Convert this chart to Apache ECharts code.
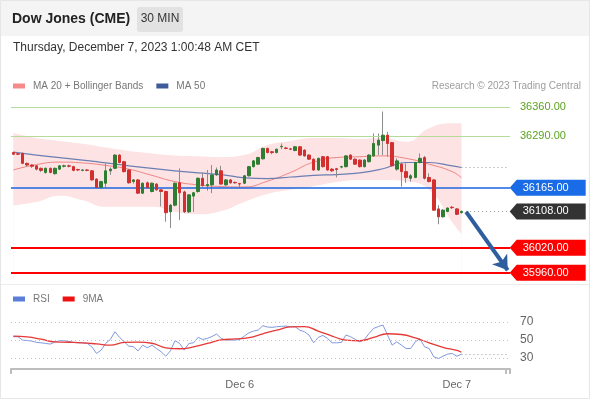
<!DOCTYPE html>
<html><head><meta charset="utf-8">
<script src="https://cdn.jsdelivr.net/npm/echarts@6/dist/echarts.min.js"></script>
<style>html,body{margin:0;padding:0;background:#fff}#c{width:590px;height:400px}</style>
</head><body><div id="c"></div>
<script>
// ---- candles (30 min) ----
const opens  = [36250,36247,36248,36224,36220,36218,36212,36202,36212,36199,36210,36217,36218,36216,36209,36207,36208,36206,36186,36166,36176,36206,36212,36244,36228,36208,36180,36184,36152,36177,36156,36174,36160,36156,36107,36123,36177,36155,36107,36145,36156,36188,36170,36172,36196,36206,36172,36184,36178,36175,36176,36194,36216,36222,36235,36260,36252,36250,36264,36261,36259,36255,36264,36256,36244,36234,36208,36240,36240,36210,36211,36215,36216,36244,36234,36232,36216,36228,36242,36268,36279,36292,36274,36210,36222,36204,36188,36190,36226,36238,36190,36184,36114,36095,36108,36118,36114,36105];
const closes = [36246,36246,36224,36220,36217,36210,36207,36212,36202,36212,36218,36218,36217,36207,36208,36208,36207,36184,36166,36180,36206,36210,36244,36226,36204,36177,36184,36152,36176,36166,36176,36160,36156,36105,36123,36176,36153,36107,36148,36153,36188,36170,36173,36196,36208,36174,36184,36177,36177,36174,36194,36216,36230,36238,36260,36250,36250,36258,36265,36260,36258,36264,36244,36242,36234,36208,36236,36216,36208,36206,36209,36216,36242,36234,36222,36216,36232,36244,36272,36280,36292,36272,36218,36230,36204,36190,36194,36226,36236,36188,36180,36111,36095,36111,36116,36117,36101,36108];
const lows   = [36244,36244,36222,36216,36213,36207,36203,36199,36200,36197,36208,36214,36214,36205,36205,36205,36205,36182,36164,36164,36166,36196,36210,36224,36202,36175,36175,36150,36150,36164,36154,36158,36120,36083,36068,36120,36087,36104,36104,36107,36153,36168,36158,36152,36194,36172,36170,36175,36175,36166,36174,36192,36214,36220,36233,36248,36246,36248,36258,36258,36256,36253,36242,36240,36232,36206,36206,36214,36206,36203,36190,36212,36214,36232,36220,36214,36214,36226,36240,36244,36244,36240,36216,36206,36168,36177,36180,36188,36224,36185,36178,36109,36077,36093,36106,36114,36099,36103];
const highs  = [36252,36249,36250,36226,36222,36220,36214,36214,36214,36214,36220,36221,36221,36218,36211,36210,36210,36208,36188,36182,36224,36214,36246,36246,36230,36210,36186,36186,36178,36180,36178,36176,36162,36158,36126,36178,36212,36158,36150,36155,36190,36201,36208,36220,36214,36218,36186,36186,36180,36177,36196,36218,36232,36240,36262,36262,36254,36260,36272,36264,36261,36266,36266,36258,36246,36236,36238,36242,36242,36213,36213,36218,36244,36246,36236,36234,36234,36246,36296,36296,36349,36300,36276,36236,36226,36224,36198,36228,36248,36242,36200,36186,36123,36114,36118,36121,36116,36110];

// ---- moving averages / Bollinger bands (read at these candle indices) ----
const maIdx   = [0,5,10,15,20,25,30,35,40,45,50,55,60,65,70,75,80,85,90,95,97];
const ma20    = [36208,36221,36227,36225,36219,36210,36195,36180,36172,36168,36167,36181,36202,36227,36238,36240,36242,36236,36222,36204,36189];
const bbUpper = [36297,36285,36278,36271,36262,36254,36248,36243,36241,36239,36244,36268,36278,36285,36285,36283,36285,36276,36309,36321,36321];
const bbLower = [36123,36131,36146,36135,36119,36119,36119,36107,36101,36109,36131,36150,36160,36169,36179,36184,36184,36181,36160,36082,36053];
const ma50    = [36251,36244,36238,36232,36225,36218,36212,36206,36201,36197,36189,36187,36191,36195,36197,36201,36211,36226,36226,36218,36214];

// ---- RSI ----
const rsi = [53.7,53.7,50,49.5,48.9,47.5,47,46.3,45.6,47.8,49.3,49.3,48.5,47.5,47,47,46.3,42.6,35.2,38.9,46.3,50.7,59.3,53,48,43.3,42.6,38.1,44.4,41.5,44.4,40.7,37,32.2,38.1,49.3,46.3,38.9,46.3,47,53,50.7,51.9,54,56.7,51.9,50,50,50,50.7,54.4,58.1,60,61.1,65.9,64.5,64.1,64.8,65.2,65.5,64.8,64.8,61,59.3,55.6,47,53,55.2,51.9,47,47,47.4,55.6,53.7,50.7,48.1,50.7,57.4,63,65,66.7,55.6,44.4,48.1,44.4,40.7,40.7,48.1,51.5,42.6,40.7,31.5,29.6,32.2,34.4,35.2,32.2,34.4];
const rsiMaIdx = [0,3,6,9,12,15,18,21,24,27,30,33,36,39,42,45,48,51,54,57,60,63,66,69,72,75,78,81,84,87,90,93,96,97];
const rsiMa    = [54.4,53.5,51,48,47.6,47,45.8,44.4,47.4,47.8,46.5,41.5,40.4,42.5,46.3,50.2,51.3,52.8,57,61,64.6,65,60,54.5,50,49.3,53,57,56.2,52.5,47,42,38.5,36.5];
const rsiLevels = [70,50,30];

// ---- levels ----
const resistLevels = [36360,36290];
const pivotLevel = 36165;
const supportLevels = [36020,35960];
const lastPrice = 36108;
const arrowFrom = [98, 36107];
const arrowTo = [107, 35966];

// ---- x axis ----
const nSlots = 108;
const dayTickIdx = [49,96];
const dayTickText = ['Dec 6','Dec 7'];

const cats = Array.from({length:nSlots},(_,i)=>String(i));
const lastIdx = opens.length-1;
const wickData = opens.map((o,i)=>[o,closes[i],lows[i],highs[i]]);
const bodyData = opens.map((o,i)=>[o,closes[i],Math.min(o,closes[i]),Math.max(o,closes[i])]);
const pair = (idx,vals)=>idx.map((x,k)=>[x,vals[k]]);
const FONT = 'Liberation Sans, Arial, sans-serif';
const tagPath = 'path://M0,8L7,0L76,0L76,16L7,16Z';
function tag(v,color){
  return {coord:[nSlots-1,v],value:v,symbol:tagPath,symbolSize:[76,16],symbolOffset:[40,0],
    itemStyle:{color:color},
    label:{show:true,position:'inside',offset:[-2,0],color:'#fff',fontSize:11,fontFamily:FONT,formatter:()=>v.toFixed(2)}};
}

const chart = echarts.init(document.getElementById('c'),null,{renderer:'canvas'});
chart.setOption({
  animation:false,
  backgroundColor:'#fff',
  textStyle:{fontFamily:FONT},
  graphic:[
    {type:'rect',shape:{x:0,y:0,width:590,height:36},style:{fill:'#f4f4f4'},z:-10},
    {type:'rect',shape:{x:0.5,y:0.5,width:589,height:398},style:{fill:'none',stroke:'#e6e6e6',lineWidth:1},z:-9},
    {type:'line',shape:{x1:1,y1:284.5,x2:589,y2:284.5},style:{stroke:'#ececec',lineWidth:1},z:-9},
    {type:'rect',shape:{x:137,y:7,width:46,height:25,r:3},style:{fill:'#e2e2e2'},z:-8},
    {type:'text',x:12,y:19,style:{text:'Dow Jones (CME)',font:'bold 14px '+FONT,fill:'#222',verticalAlign:'middle'}},
    {type:'text',x:160,y:19,style:{text:'30 MIN',font:'12px '+FONT,fill:'#333',align:'center',verticalAlign:'middle'}},
    {type:'text',x:13,y:48,style:{text:'Thursday, December 7, 2023 1:00:48 AM CET',font:'12px '+FONT,fill:'#333',verticalAlign:'middle'}},
    {type:'text',x:581,y:86,style:{text:'Research © 2023 Trading Central',font:'10px '+FONT,fill:'#9d9d9d',align:'right',verticalAlign:'middle'}}
  ],
  legend:[
    {left:13,top:81,padding:0,icon:'rect',itemWidth:12,itemHeight:5,itemGap:13,
     textStyle:{color:'#777',fontSize:10,padding:[0,0,0,3]},
     data:[{name:'MA 20 + Bollinger Bands',itemStyle:{color:'#f48a8a'}},{name:'MA 50',itemStyle:{color:'#3d5c99'}}]},
    {left:13,top:294,padding:0,icon:'rect',itemWidth:12,itemHeight:5,itemGap:13,
     textStyle:{color:'#777',fontSize:10,padding:[0,0,0,3]},
     data:[{name:'RSI',itemStyle:{color:'#5b7fd8'}},{name:'9MA',itemStyle:{color:'#ee1111'}}]}
  ],
  grid:[
    {left:11,width:499,top:100,height:182},
    {left:11,width:499,top:313,height:56}
  ],
  xAxis:[
    {type:'category',gridIndex:0,data:cats,boundaryGap:true,show:false},
    {type:'category',gridIndex:1,data:cats,boundaryGap:true,
     axisLine:{lineStyle:{color:'#bdbdbd',width:2}},
     axisTick:{show:true,interval:(i)=>i===0||i===nSlots-1,length:5,lineStyle:{color:'#bdbdbd',width:2}},
     axisLabel:{interval:(i)=>dayTickIdx.indexOf(i)>=0,formatter:(v,i)=>{const k=dayTickIdx.indexOf(i);return k>=0?dayTickText[k]:'';},color:'#666',fontSize:11,margin:10}}
  ],
  yAxis:[
    {type:'value',gridIndex:0,min:35937.6,max:36376.9,show:false,splitLine:{show:false}},
    {type:'value',gridIndex:1,min:18,max:80,show:false,splitLine:{show:false}}
  ],
  series:[
    {name:'bbUpper',type:'line',z:1,xAxisIndex:0,yAxisIndex:0,data:pair(maIdx,bbUpper),smooth:true,symbol:'none',silent:true,
     lineStyle:{width:0,opacity:0},areaStyle:{color:'#fde3e3',origin:'start',opacity:1}},
    {name:'bbLower',type:'line',z:1,xAxisIndex:0,yAxisIndex:0,data:pair(maIdx,bbLower),smooth:true,symbol:'none',silent:true,
     lineStyle:{width:0,opacity:0},areaStyle:{color:'#ffffff',origin:'start',opacity:1}},
    {name:'MA 20 + Bollinger Bands',type:'line',z:3,xAxisIndex:0,yAxisIndex:0,data:pair(maIdx,ma20),smooth:true,symbol:'none',
     color:'#f48a8a',lineStyle:{color:'#f08484',width:1}},
    {name:'MA 50',type:'line',z:3,xAxisIndex:0,yAxisIndex:0,data:pair(maIdx,ma50),smooth:true,symbol:'none',
     color:'#3d5c99',lineStyle:{color:'#6b7fb3',width:1.2},
     markLine:{silent:true,symbol:['none','none'],label:{show:false},
       lineStyle:{color:'#9a9a9a',type:[1,3],width:1},
       data:[[{coord:[lastIdx,ma50[ma50.length-1]]},{coord:[nSlots-1,ma50[ma50.length-1]]}]]}},
    {name:'wicks',type:'candlestick',z:4,xAxisIndex:0,yAxisIndex:0,data:wickData,barWidth:1,silent:true,
     itemStyle:{color:'#8c8c8c',color0:'#8c8c8c',borderColor:'#8c8c8c',borderColor0:'#8c8c8c',borderWidth:1}},
    {name:'candles',type:'candlestick',z:5,xAxisIndex:0,yAxisIndex:0,data:bodyData,barWidth:3,
     itemStyle:{color:'#2e7d32',color0:'#d32f2f',borderColor:'#2e7d32',borderColor0:'#d32f2f',borderWidth:1},
     markLine:{silent:true,symbol:['none','none'],animation:false,
       data:[
         ...resistLevels.map(v=>({yAxis:v,lineStyle:{color:'#b6da98',width:1,type:'solid'},
            label:{show:true,position:'end',distance:10,color:'#5aa31e',fontSize:11,formatter:()=>v.toFixed(2)}})),
         {yAxis:pivotLevel,lineStyle:{color:'#1a66e0',width:1.5,type:'solid'},label:{show:false}},
         ...supportLevels.map(v=>({yAxis:v,lineStyle:{color:'#ff0000',width:2,type:'solid'},label:{show:false}})),
         [{coord:[lastIdx+1,lastPrice],lineStyle:{color:'#9a9a9a',type:[1,3],width:1},label:{show:false}},{coord:[nSlots-1,lastPrice]}],
         [{coord:arrowFrom,symbol:'none',lineStyle:{color:'#2f5e9e',width:4,type:'solid'},label:{show:false}},{coord:arrowTo,symbol:'arrow',symbolSize:14}]
       ]},
     markPoint:{silent:true,animation:false,
       data:[tag(pivotLevel,'#1a6be6'),tag(lastPrice,'#333333'),...supportLevels.map(v=>tag(v,'#ff0000'))]}},
    {name:'RSI',type:'line',xAxisIndex:1,yAxisIndex:1,data:rsi,symbol:'none',color:'#5b7fd8',
     lineStyle:{color:'#8199de',width:1},
     markLine:{silent:true,symbol:['none','none'],
       data:[
         ...rsiLevels.map(v=>({yAxis:v,lineStyle:{color:'#c4c4c4',type:[1,3],width:1},
           label:{show:true,position:'end',distance:10,color:'#666',fontSize:12,formatter:()=>String(v)}})),
         [{coord:[lastIdx,rsi[lastIdx]],lineStyle:{color:'#9a9a9a',type:[1,3],width:1},label:{show:false}},{coord:[nSlots-1,rsi[lastIdx]]}]
       ]}},
    {name:'9MA',type:'line',xAxisIndex:1,yAxisIndex:1,data:pair(rsiMaIdx,rsiMa),smooth:true,symbol:'none',color:'#ee1111',
     lineStyle:{color:'#e53935',width:1.3}}
  ]
});
</script></body></html>
